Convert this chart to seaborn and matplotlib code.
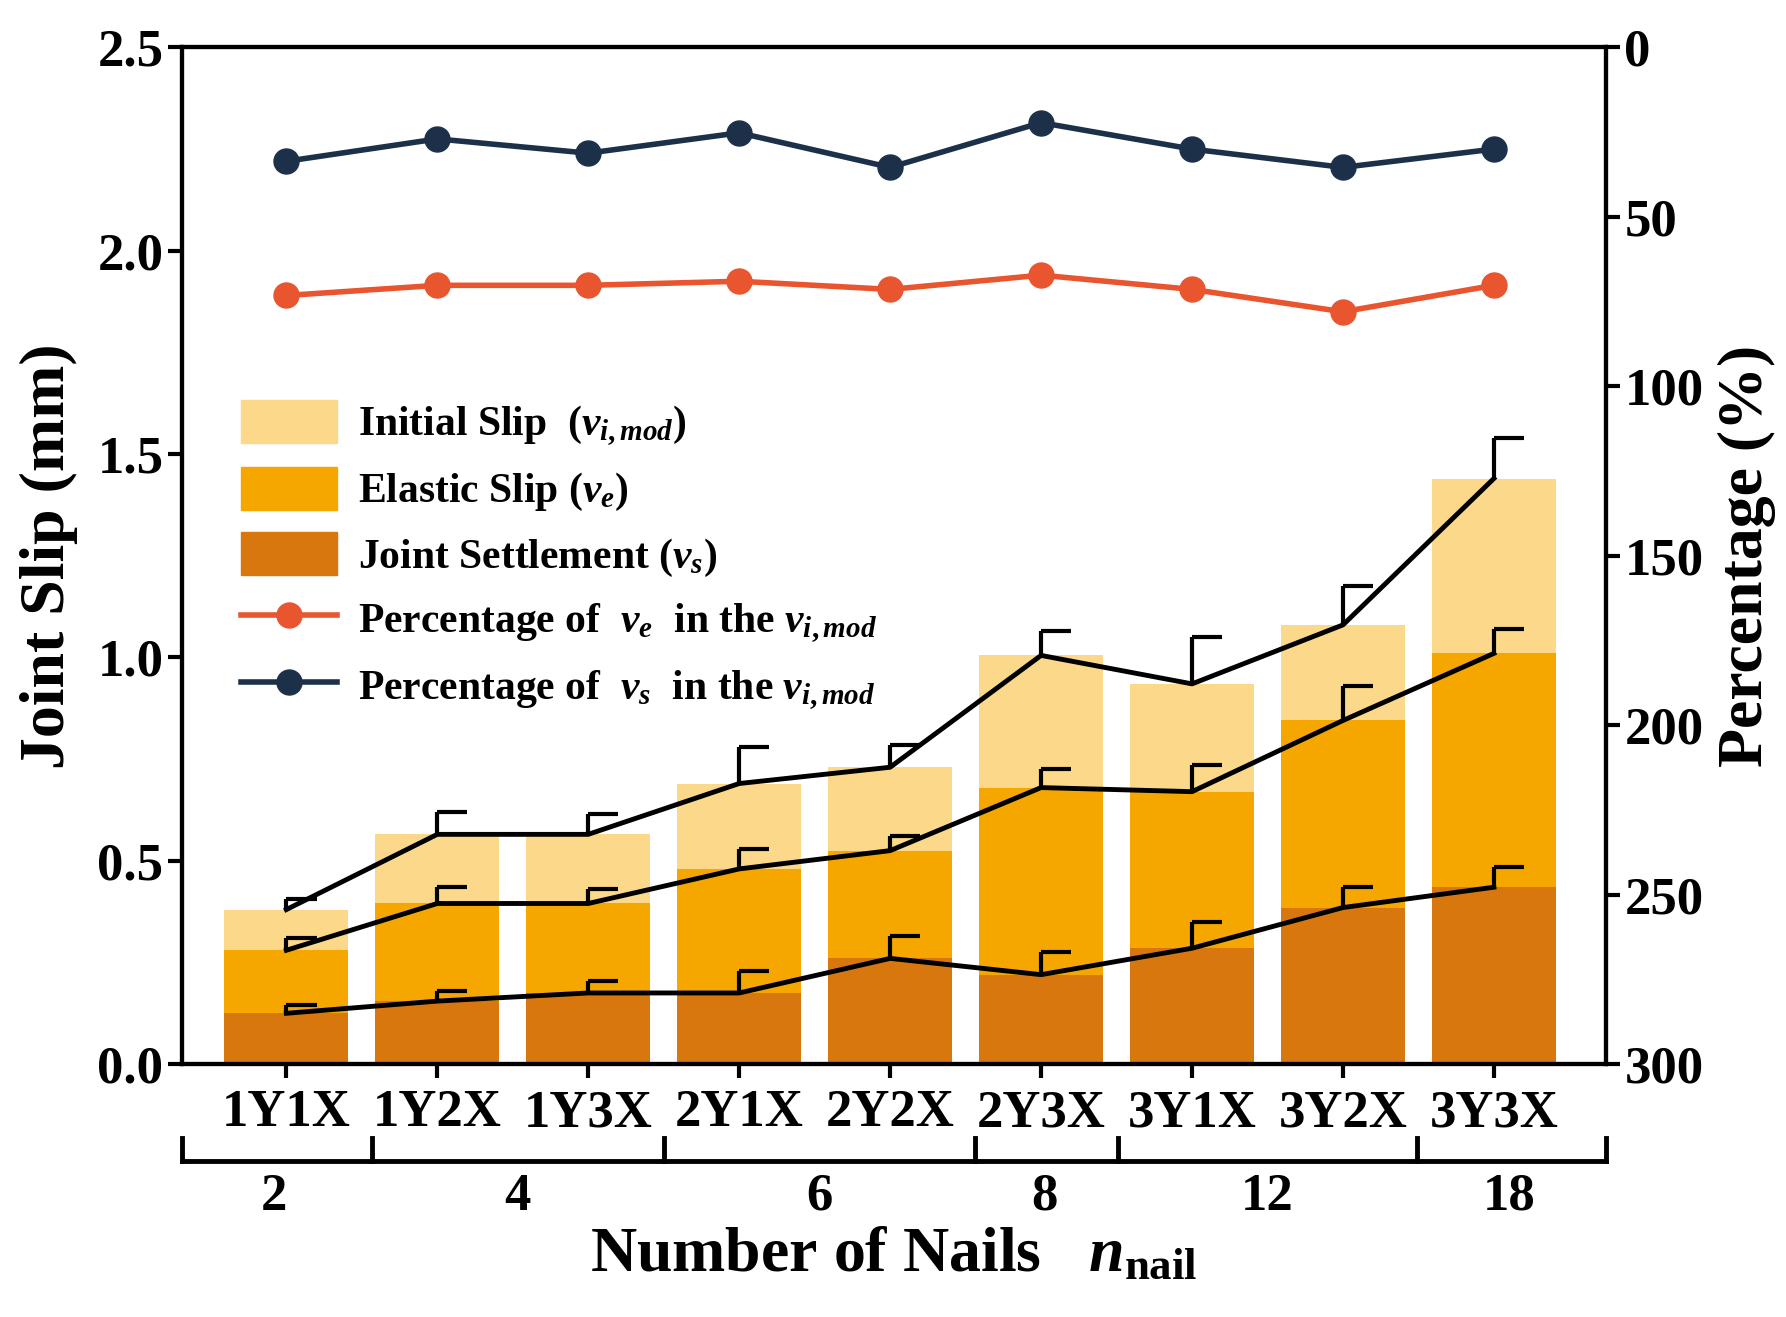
import numpy as np
import pandas as pd
import matplotlib
matplotlib.use("Agg")
import matplotlib.pyplot as plt
import seaborn as sns
from matplotlib.patches import Patch
from matplotlib.lines import Line2D

categories = ["1Y1X", "1Y2X", "1Y3X", "2Y1X", "2Y2X", "2Y3X", "3Y1X", "3Y2X", "3Y3X"]
initial_slip = [0.38, 0.565, 0.565, 0.69, 0.73, 1.005, 0.935, 1.08, 1.44]
initial_err = [0.025, 0.055, 0.05, 0.09, 0.055, 0.06, 0.115, 0.095, 0.10]
elastic_slip = [0.28, 0.395, 0.395, 0.48, 0.525, 0.68, 0.67, 0.845, 1.01]
elastic_err = [0.03, 0.04, 0.035, 0.05, 0.035, 0.045, 0.065, 0.085, 0.06]
settlement = [0.125, 0.155, 0.175, 0.175, 0.26, 0.22, 0.285, 0.385, 0.435]
settlement_err = [0.02, 0.025, 0.03, 0.055, 0.055, 0.055, 0.065, 0.05, 0.05]
pct_ve = [73.2, 70.2, 70.2, 69.0, 71.4, 67.2, 71.4, 78.0, 70.2]
pct_vs = [33.6, 27.0, 31.2, 25.2, 35.4, 22.2, 30.0, 35.4, 30.0]
nail_labels = ["2", "4", "6", "8", "12", "18"]
nail_label_pos = [-0.08, 1.53, 3.53, 5.02, 6.5, 8.1]
nail_bounds = [0.57, 2.5, 4.56, 5.51, 7.49]

plt.rcParams["font.family"] = "Liberation Serif"
plt.rcParams["font.weight"] = "bold"
plt.rcParams["mathtext.fontset"] = "custom"
plt.rcParams["mathtext.rm"] = "Liberation Serif:bold"
plt.rcParams["mathtext.it"] = "Liberation Serif:bold:italic"
plt.rcParams["mathtext.bf"] = "Liberation Serif:bold"

c_init, c_el, c_set = "#FCD98A", "#F5A700", "#D9770F"
c_ve, c_vs = "#E8552E", "#1C3149"

fig = plt.figure(figsize=(17.86, 13.17), dpi=100)
ax = fig.add_axes([0.102, 0.192, 0.797, 0.772])
df = pd.DataFrame({"cat": categories, "init": initial_slip, "el": elastic_slip, "set": settlement})
for col, c in [("init", c_init), ("el", c_el), ("set", c_set)]:
    sns.barplot(data=df, x="cat", y=col, color=c, width=0.82, ax=ax, saturation=1, errorbar=None)
x = np.arange(len(categories))
for vals, err in [(initial_slip, initial_err), (elastic_slip, elastic_err), (settlement, settlement_err)]:
    v = np.array(vals); e = np.array(err)
    ax.plot(x, v, color="black", lw=3.5)
    ax.vlines(x, v, v + e, color="black", lw=3)
    ax.hlines(v + e, x, x + 0.2, color="black", lw=3)
ax.set_xlim(-0.69, 8.74)
ax.set_ylim(0, 2.5)
ax.set_yticks(np.arange(0, 2.51, 0.5))
ax.set_yticklabels([f"{v:.1f}" for v in np.arange(0, 2.51, 0.5)])
ax.set_xlabel("")
ax.set_ylabel("Joint Slip (mm)", fontsize=46, fontweight="bold", labelpad=14)
ax.tick_params(axis="both", labelsize=38, width=3, length=10, direction="out")
ax.tick_params(axis="x", length=10, pad=8)
for s in ax.spines.values():
    s.set_linewidth(3)

ax2 = ax.twinx()
ax2.plot(x, pct_ve, "-o", color=c_ve, lw=4, ms=18)
ax2.plot(x, pct_vs, "-o", color=c_vs, lw=4, ms=18)
ax2.set_ylim(300, 0)
ax2.set_yticks([0, 50, 100, 150, 200, 250, 300])
ax2.set_ylabel("Percentage (%)", fontsize=46, fontweight="bold", labelpad=10)
ax2.tick_params(axis="y", labelsize=38, width=3, length=10)
for s in ax2.spines.values():
    s.set_linewidth(3)

tr = ax.get_xaxis_transform()
yb = -0.095
ax.plot([-0.69, 8.74], [yb, yb], color="black", lw=3.5, transform=tr, clip_on=False)
for b in [-0.69] + nail_bounds + [8.74]:
    ax.plot([b, b], [yb, yb + 0.022], color="black", lw=3.5, transform=tr, clip_on=False)
for lab, p in zip(nail_labels, nail_label_pos):
    ax.text(p, yb - 0.012, lab, transform=tr, ha="center", va="top", fontsize=38, fontweight="bold")
ax.text(0.5, -0.16, r"Number of Nails   $\mathit{n}_{\mathrm{nail}}$", transform=ax.transAxes,
        ha="center", va="top", fontsize=46, fontweight="bold")

handles = [Patch(color=c_init), Patch(color=c_el), Patch(color=c_set),
           Line2D([], [], color=c_ve, marker="o", lw=4, ms=18),
           Line2D([], [], color=c_vs, marker="o", lw=4, ms=18)]
labels = [r"Initial Slip  ($v_{i,mod}$)", r"Elastic Slip ($v_e$)", r"Joint Settlement ($v_s$)",
          r"Percentage of  $v_e$  in the $v_{i,mod}$", r"Percentage of  $v_s$  in the $v_{i,mod}$"]
ax.legend(handles, labels, loc="upper left", bbox_to_anchor=(0.015, 0.69), frameon=False,
          fontsize=30, handlelength=2.3, handleheight=1.2, labelspacing=0.45, handletextpad=0.5)
fig.savefig("out.png", dpi=100)
